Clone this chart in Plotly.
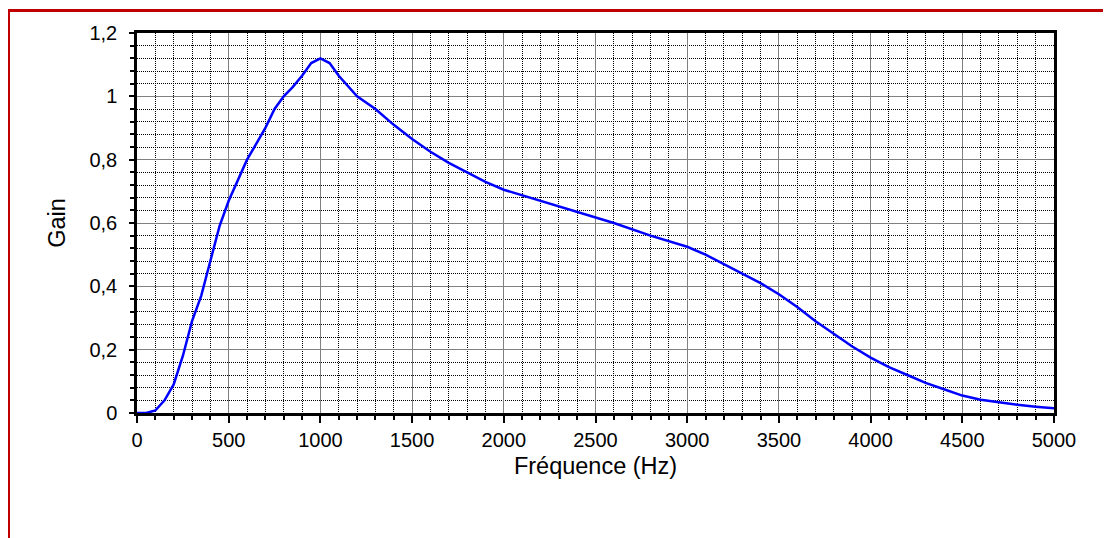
import plotly.graph_objects as go

freq_hz = [0, 50, 100, 150, 200, 250, 300, 350, 400, 450, 500, 550, 600, 650, 700,
           750, 800, 850, 900, 950, 1000, 1050, 1100, 1200, 1300, 1400, 1500, 1600,
           1700, 1800, 1900, 2000, 2200, 2400, 2600, 2800, 3000, 3100, 3200, 3300,
           3400, 3500, 3600, 3700, 3800, 3900, 4000, 4100, 4200, 4300, 4400, 4500,
           4600, 4700, 4800, 4900, 5000]
gain = [0, 0, 0.008, 0.04, 0.09, 0.18, 0.29, 0.37, 0.48, 0.59, 0.67, 0.735, 0.80,
        0.85, 0.90, 0.96, 1.00, 1.03, 1.065, 1.105, 1.12, 1.105, 1.065, 1.00, 0.96,
        0.91, 0.865, 0.825, 0.79, 0.76, 0.73, 0.705, 0.67, 0.635, 0.60, 0.56, 0.525,
        0.50, 0.47, 0.44, 0.41, 0.375, 0.335, 0.29, 0.25, 0.21, 0.175, 0.145, 0.12,
        0.095, 0.075, 0.055, 0.042, 0.033, 0.026, 0.02, 0.015]

x_ticks = [0, 500, 1000, 1500, 2000, 2500, 3000, 3500, 4000, 4500, 5000]
y_ticks = [0, 0.2, 0.4, 0.6, 0.8, 1.0, 1.2]
y_labels = ["0", "0,2", "0,4", "0,6", "0,8", "1", "1,2"]

fig = go.Figure()
fig.add_trace(go.Scatter(x=freq_hz, y=gain, mode="lines",
                         line=dict(color="#0000FF", width=2.5), showlegend=False))

font_family = "Liberation Sans, Arial, sans-serif"

fig.update_layout(
    width=1111, height=538,
    margin=dict(l=129, r=65, t=25, b=133),
    paper_bgcolor="white", plot_bgcolor="white",
    font=dict(family=font_family, color="black", size=20),
    xaxis=dict(
        range=[0, 5000], tickvals=x_ticks, ticktext=[str(v) for v in x_ticks],
        showgrid=True, gridcolor="#808080", gridwidth=1,
        showline=True, linecolor="black", linewidth=2.5, mirror=True,
        ticks="outside", ticklen=7, tickwidth=2, tickcolor="black",
        zeroline=False,
        tickfont=dict(size=20),
        minor=dict(dtick=100, showgrid=True, gridcolor="black", gridwidth=1,
                   griddash="1px,1px", ticks="outside", ticklen=4, tickwidth=2,
                   tickcolor="black"),
        title=dict(text="Fréquence (Hz)", font=dict(size=23.5), standoff=8),
    ),
    yaxis=dict(
        range=[0, 1.2], tickvals=y_ticks, ticktext=y_labels,
        showgrid=True, gridcolor="#808080", gridwidth=1,
        showline=True, linecolor="black", linewidth=2.5, mirror=True,
        ticks="outside", ticklen=5, tickwidth=2, tickcolor="black",
        zeroline=False, ticklabelstandoff=8,
        tickfont=dict(size=20),
        minor=dict(dtick=0.04, showgrid=True, gridcolor="black", gridwidth=1,
                   griddash="1px,1px", ticks="outside", ticklen=4, tickwidth=2,
                   tickcolor="black"),
        title=dict(text="Gain", font=dict(size=23.5), standoff=18),
    ),
    shapes=[dict(type="rect", xref="paper", yref="paper",
                 x0=-128.5 / 917, x1=1.08, y0=-0.4, y1=402.5 / 380,
                 line=dict(color="#C00000", width=3), fillcolor="rgba(0,0,0,0)",
                 layer="below")],
)

fig.write_html("out.html")
